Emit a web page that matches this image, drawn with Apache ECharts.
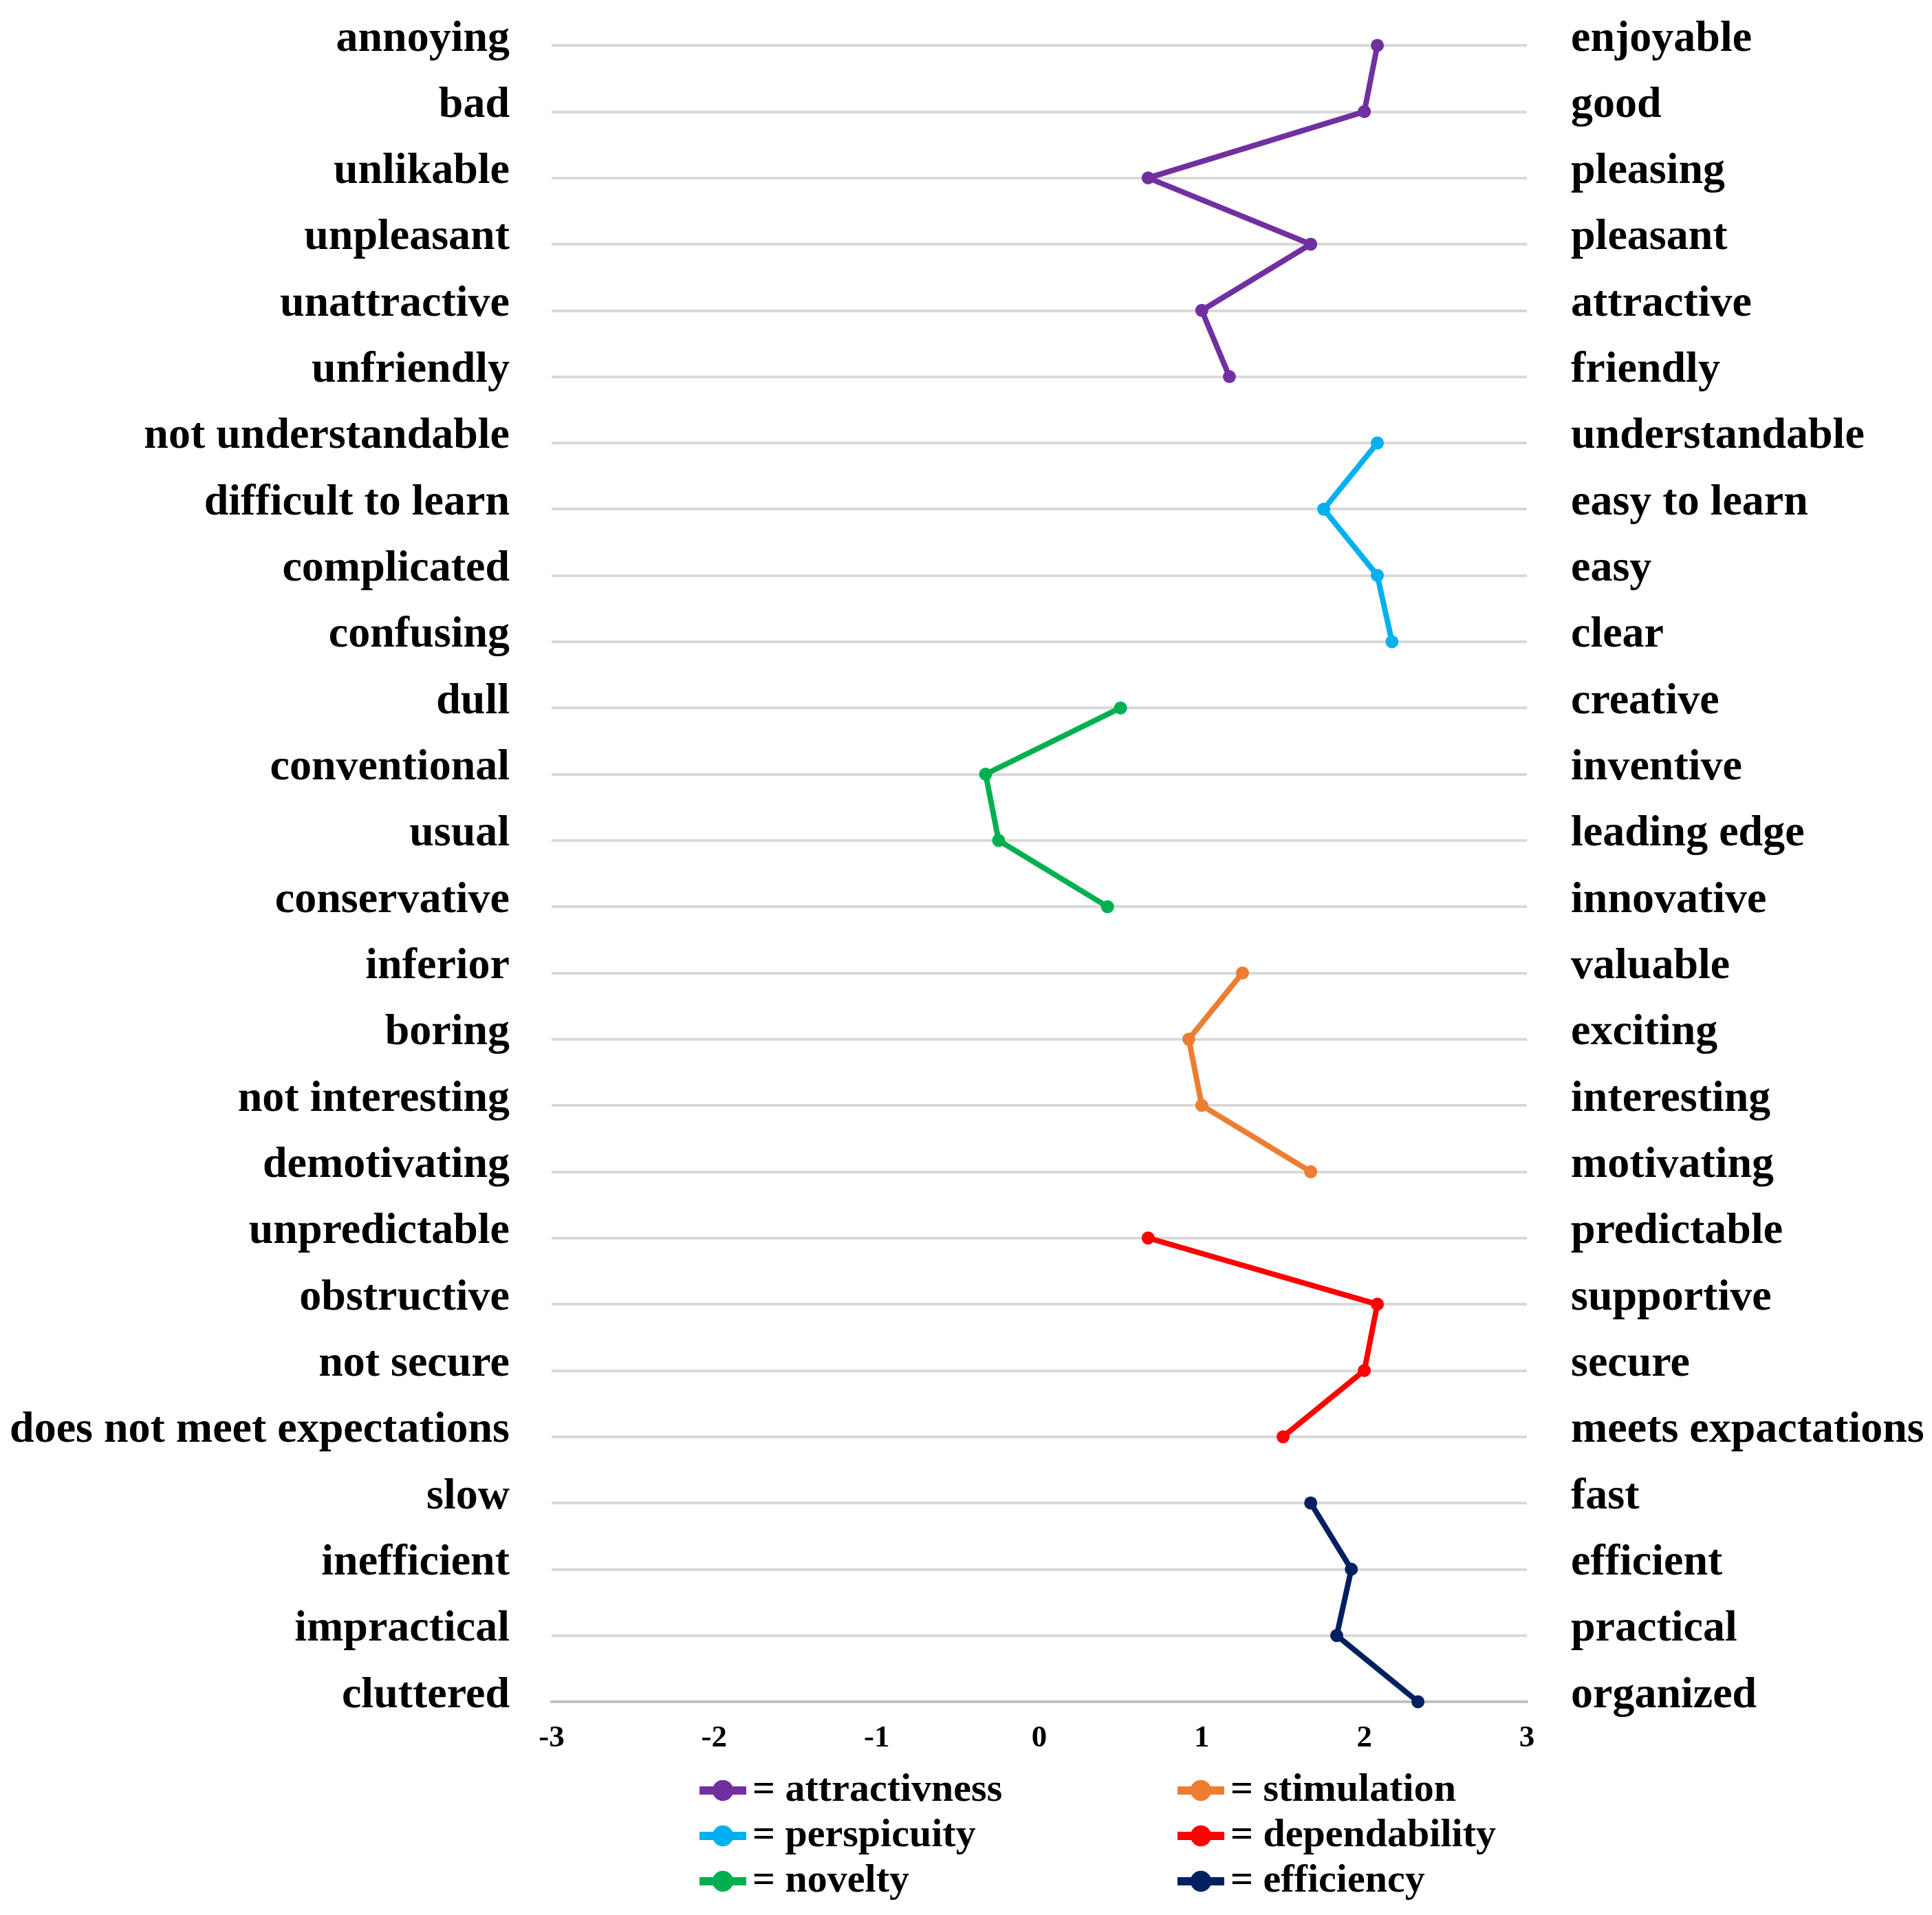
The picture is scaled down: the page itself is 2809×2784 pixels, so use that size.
<!DOCTYPE html>
<html>
<head>
<meta charset="utf-8">
<script src="https://cdn.jsdelivr.net/npm/echarts@6/dist/echarts.min.js"></script>
<style>
  html, body { margin: 0; padding: 0; background: #fff; }
  #chart { width: 2809px; height: 2784px; }
</style>
</head>
<body>
<div id="chart"></div>
<script>
// word pairs, negative pole on the left, positive pole on the right
var leftLabels = ['annoying', 'bad', 'unlikable', 'unpleasant', 'unattractive', 'unfriendly',
    'not understandable', 'difficult to learn', 'complicated', 'confusing',
    'dull', 'conventional', 'usual', 'conservative',
    'inferior', 'boring', 'not interesting', 'demotivating',
    'unpredictable', 'obstructive', 'not secure', 'does not meet expectations',
    'slow', 'inefficient', 'impractical', 'cluttered'];
var rightLabels = ['enjoyable', 'good', 'pleasing', 'pleasant', 'attractive', 'friendly',
    'understandable', 'easy to learn', 'easy', 'clear',
    'creative', 'inventive', 'leading edge', 'innovative',
    'valuable', 'exciting', 'interesting', 'motivating',
    'predictable', 'supportive', 'secure', 'meets expactations',
    'fast', 'efficient', 'practical', 'organized'];
var xTicks = [-3, 3, 1]; // min, max, step

// mean scores per scale
var attractivness = [2.08, 2.0, 0.67, 1.67, 1.0, 1.17];
var perspicuity = [2.08, 1.75, 2.08, 2.17];
var novelty = [0.5, -0.33, -0.25, 0.42];
var stimulation = [1.25, 0.92, 1.0, 1.67];
var dependability = [0.67, 2.08, 2.0, 1.5];
var efficiency = [1.67, 1.92, 1.83, 2.33];

var scales = [
    {name: 'attractivness', values: attractivness, start: 0, color: '#7030A0'},
    {name: 'perspicuity', values: perspicuity, start: 6, color: '#00B0F0'},
    {name: 'novelty', values: novelty, start: 10, color: '#00B050'},
    {name: 'stimulation', values: stimulation, start: 14, color: '#ED7D31'},
    {name: 'dependability', values: dependability, start: 18, color: '#FF0000'},
    {name: 'efficiency', values: efficiency, start: 22, color: '#002060'}
];

var font = '"Liberation Serif", "Times New Roman", serif';

var series = scales.map(function (s) {
    return {
        name: s.name,
        type: 'line',
        yAxisIndex: 0,
        symbol: 'circle',
        symbolSize: 19,
        lineStyle: {width: 8, color: s.color},
        itemStyle: {color: s.color},
        data: s.values.map(function (v, i) {
            return [v, leftLabels[s.start + i]];
        })
    };
});

function makeLegend(names, left) {
    return {
        data: names,
        orient: 'vertical',
        left: left,
        top: 2569,
        itemWidth: 68,
        itemHeight: 38,
        itemGap: 8,
        lineStyle: {width: 12},
        formatter: '= {name}',
        textStyle: {fontFamily: font, fontWeight: 'bold', fontSize: 58, color: '#000', padding: [0, 0, 0, 4]}
    };
}

// bottom-aligned with a short line box, so the words sit a little above their grid line
var labelStyle = {
    fontFamily: font,
    fontWeight: 'bold',
    fontSize: 64,
    color: '#000',
    verticalAlign: 'bottom',
    lineHeight: 18
};

var option = {
    animation: false,
    backgroundColor: '#fff',
    grid: {left: 802, right: 589, top: 66, bottom: 310},
    legend: [
        makeLegend(['attractivness', 'perspicuity', 'novelty'], 1006),
        makeLegend(['stimulation', 'dependability', 'efficiency'], 1701)
    ],
    xAxis: {
        type: 'value',
        min: xTicks[0],
        max: xTicks[1],
        interval: xTicks[2],
        splitLine: {show: false},
        axisTick: {show: false},
        axisLine: {show: true, lineStyle: {color: '#bfbfbf', width: 4}},
        axisLabel: {fontFamily: font, fontWeight: 'bold', fontSize: 45, color: '#000', margin: 31}
    },
    yAxis: [
        {
            type: 'category',
            data: leftLabels,
            inverse: true,
            boundaryGap: false,
            position: 'left',
            axisLine: {show: false},
            axisTick: {show: false},
            splitLine: {show: true, lineStyle: {color: '#d9d9d9', width: 4}},
            axisLabel: Object.assign({margin: 61, interval: 0}, labelStyle)
        },
        {
            type: 'category',
            data: rightLabels,
            inverse: true,
            boundaryGap: false,
            position: 'right',
            axisLine: {show: false},
            axisTick: {show: false},
            splitLine: {show: false},
            axisLabel: Object.assign({margin: 64, interval: 0}, labelStyle)
        }
    ],
    series: series
};

var myChart = echarts.init(document.getElementById('chart'));
myChart.setOption(option);
</script>
</body>
</html>
